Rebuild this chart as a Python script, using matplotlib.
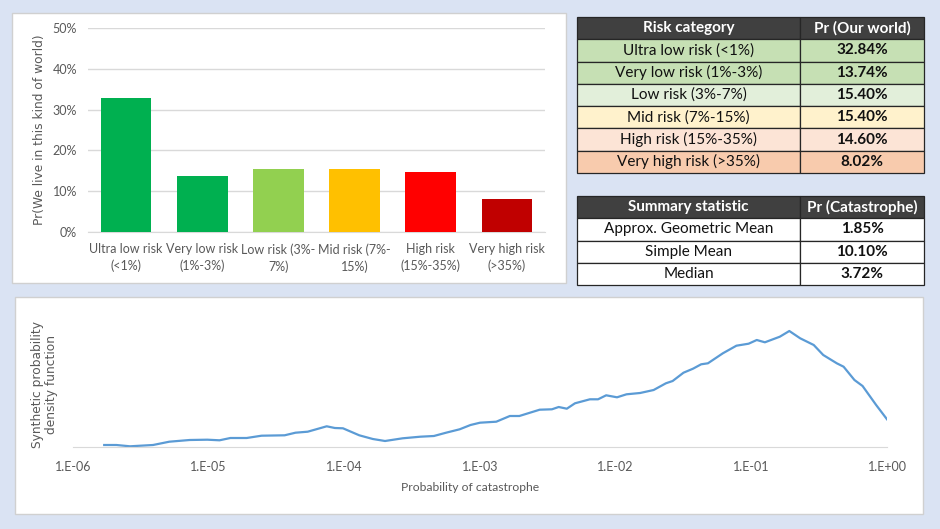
import matplotlib
matplotlib.use("Agg")
import matplotlib.pyplot as plt
from matplotlib.patches import Rectangle
from matplotlib.ticker import FuncFormatter, FixedLocator

# bar chart data
bar_labels = ["Ultra low risk\n(<1%)", "Very low risk\n(1%-3%)", "Low risk (3%-\n7%)",
              "Mid risk (7%-\n15%)", "High risk\n(15%-35%)", "Very high risk\n(>35%)"]
bar_values = [0.3284, 0.1374, 0.1540, 0.1540, 0.1460, 0.0802]
bar_colors = ["#00B050", "#00B050", "#92D050", "#FFC000", "#FF0000", "#C00000"]

# risk table
risk_categories = ["Ultra low risk (<1%)", "Very low risk (1%-3%)", "Low risk (3%-7%)",
                   "Mid risk (7%-15%)", "High risk (15%-35%)", "Very high risk (>35%)"]
risk_pr = ["32.84%", "13.74%", "15.40%", "15.40%", "14.60%", "8.02%"]
risk_fill = ["#C6E0B4", "#C6E0B4", "#E2EFDA", "#FFF2CC", "#FCE4D6", "#F8CBAD"]

# summary table
stat_names = ["Approx. Geometric Mean", "Simple Mean", "Median"]
stat_values = ["1.85%", "10.10%", "3.72%"]

# density curve (log10 of probability, relative density)
pdf_log10 = [-5.77, -5.68, -5.58, -5.41, -5.29, -5.14, -5.01, -4.92, -4.84, -4.72,
             -4.61, -4.44, -4.36, -4.27, -4.13, -4.07, -4.01, -3.89, -3.79, -3.70,
             -3.57, -3.44, -3.34, -3.25, -3.15, -3.07, -3.00, -2.88, -2.78, -2.71,
             -2.56, -2.47, -2.42, -2.36, -2.30, -2.19, -2.13, -2.07, -1.99, -1.92,
             -1.82, -1.72, -1.63, -1.58, -1.50, -1.43, -1.37, -1.32, -1.21, -1.11,
             -1.02, -0.96, -0.90, -0.79, -0.72, -0.64, -0.54, -0.47, -0.37, -0.32,
             -0.24, -0.18, -0.08, 0.00]
pdf_height = [2, 2, 0.7, 2, 5.3, 7, 7.3, 6.7, 9, 9,
              11.3, 11.7, 14.3, 15.3, 20.7, 19, 18.7, 11.7, 8, 6,
              8.7, 10.3, 11, 14.3, 17.7, 22, 24.3, 25.3, 31, 31,
              37.3, 37.7, 40, 38.3, 43.7, 47.7, 47.7, 51.7, 49.7, 52.7,
              54, 57, 63.7, 66, 74.3, 78.3, 82.7, 83.7, 93.7, 101.3,
              103.3, 107, 104.7, 110.3, 116, 108.7, 102, 92, 83.7, 80.3,
              67, 61, 42, 27.7]
pdf_ticks = [1e-6, 1e-5, 1e-4, 1e-3, 1e-2, 1e-1, 1e0]
pdf_tick_labels = ["1.E-06", "1.E-05", "1.E-04", "1.E-03", "1.E-02", "1.E-01", "1.E+00"]

W, H = 940, 529
TEXT_GREY = "#595959"
GRID = "#D9D9D9"


def box(x0, y0, x1, y1):
    """pixel box (top-left origin) -> figure fraction rect"""
    return [x0 / W, 1 - y1 / H, (x1 - x0) / W, (y1 - y0) / H]


fig = plt.figure(figsize=(W / 100, H / 100), dpi=100)
fig.patch.set_facecolor("#DAE3F3")

for x0, y0, x1, y1 in [(12, 13, 566, 283), (15, 297, 923, 514)]:
    fig.add_artist(Rectangle((x0 / W, 1 - y1 / H), (x1 - x0) / W, (y1 - y0) / H,
                             transform=fig.transFigure, facecolor="white",
                             edgecolor="#D0D0D0", linewidth=1, zorder=-5))

# ---- bar chart ----
ax = fig.add_axes(box(88, 28, 545, 232))
ax.bar(range(len(bar_values)), bar_values, width=0.667, color=bar_colors, zorder=3)
ax.set_ylim(0, 0.5)
ax.set_xlim(-0.5, len(bar_values) - 0.5)
ax.set_yticks([0, 0.1, 0.2, 0.3, 0.4, 0.5])
ax.yaxis.set_major_formatter(FuncFormatter(lambda v, p: f"{v:.0%}"))
ax.set_xticks(range(len(bar_values)))
ax.set_xticklabels(bar_labels, family="Lato", fontsize=9, color=TEXT_GREY, linespacing=1.45)
for t in ax.get_yticklabels():
    t.set_family("Lato")
    t.set_fontsize(9)
    t.set_color(TEXT_GREY)
ax.tick_params(axis="both", length=0)
ax.tick_params(axis="y", pad=8)
ax.tick_params(axis="x", pad=8)
ax.grid(axis="y", color=GRID, linewidth=1, zorder=0)
for s in ["top", "right", "left"]:
    ax.spines[s].set_visible(False)
ax.spines["bottom"].set_color(GRID)
ax.set_facecolor("none")
ax.set_ylabel("Pr(We live in this kind of world)", family="DejaVu Sans", fontsize=8.8,
              color=TEXT_GREY)
ax.yaxis.set_label_coords(-0.092, 0.5)

# ---- tables ----
def draw_table(rect, header, rows, fills):
    tax = fig.add_axes(box(*rect))
    tax.axis("off")
    cell_text = [list(r) for r in rows]
    tbl = tax.table(cellText=cell_text, colLabels=header, cellColours=fills,
                    colWidths=[0.643, 0.357], bbox=[0, 0, 1, 1], cellLoc="center")
    tbl.auto_set_font_size(False)
    for (r, c), cell in tbl.get_celld().items():
        cell.set_edgecolor("#262626")
        cell.set_linewidth(0.9)
        txt = cell.get_text()
        txt.set_family("Lato")
        txt.set_fontsize(11)
        if r == 0:
            cell.set_facecolor("#404040")
            txt.set_color("white")
            txt.set_weight("bold")
        else:
            txt.set_color("#111111")
            if c == 1:
                txt.set_weight("bold")


draw_table((577, 17, 924, 173), ["Risk category", "Pr (Our world)"],
           list(zip(risk_categories, risk_pr)),
           [[f, f] for f in risk_fill])
draw_table((577, 196, 924, 285), ["Summary statistic", "Pr (Catastrophe)"],
           list(zip(stat_names, stat_values)),
           [["white", "white"] for _ in stat_names])

# ---- density curve ----
lx = fig.add_axes(box(73, 322, 887, 447))
lx.plot([10 ** v for v in pdf_log10], pdf_height, color="#5B9BD5", linewidth=1.6)
lx.set_xscale("log")
lx.set_xlim(1e-6, 1e0)
lx.set_ylim(0, 125)
lx.xaxis.set_major_locator(FixedLocator(pdf_ticks))
lx.xaxis.set_minor_locator(FixedLocator([]))
lx.set_xticklabels(pdf_tick_labels, family="Lato", fontsize=9, color=TEXT_GREY)
lx.set_yticks([])
lx.tick_params(axis="x", length=0, pad=10)
for s in ["top", "right", "left"]:
    lx.spines[s].set_visible(False)
lx.spines["bottom"].set_color(GRID)
lx.set_facecolor("none")
lx.set_xlabel("Probability of catastrophe", family="Lato", fontsize=8.7, color=TEXT_GREY)
lx.xaxis.set_label_coords(0.488, -0.28)
lx.set_ylabel("Synthetic probability\ndensity function", family="DejaVu Sans",
              fontsize=8.8, color=TEXT_GREY, linespacing=1.1)
lx.yaxis.set_label_coords(-0.018, 0.5)

fig.savefig("out.png", dpi=100, facecolor=fig.get_facecolor())
